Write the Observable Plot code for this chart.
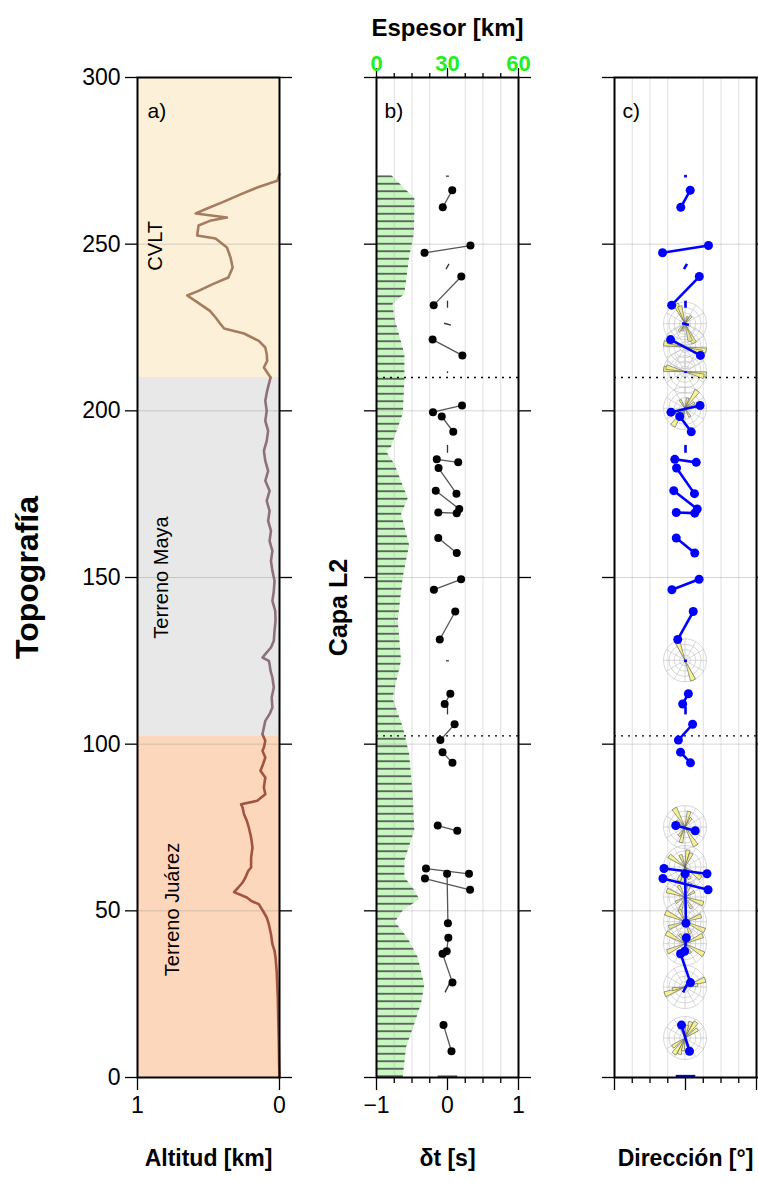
<!DOCTYPE html>
<html>
<head>
<meta charset="utf-8">
<script src="https://cdn.jsdelivr.net/npm/d3@7"></script>
<script src="https://cdn.jsdelivr.net/npm/@observablehq/plot@0.6"></script>
<style>
  body { margin: 0; background: #fff; }
  #fig { position: relative; width: 758px; height: 1183px; overflow: hidden; }
  #fig > div { position: absolute; top: 0; }
</style>
</head>
<body>
<div id="fig"></div>
<script>
// ---------- Topography profile (distance along profile [km], altitude [km]) ----------
const topoDist = [0,5,11,18,24,28,32,36,38,40,43,46,48,49.5,52,53,54,55.6,57,58.5,60,62,63,66,69,72,75,77,79,81,82,83,85,87,90,92,93.5,96,98,99,101,103,105,107,109,111,114,117,120,122,124,125,126,127,129,131,134,137,140,143,146,149,152,155,158,161,164,167,170,173,176,179,182,185,188,191,194,197,200,203,206,208,210,213,215,217,219,221,223.2,224.7,226,228,230,232.6,234.6,236,238,240,243,246,249,251.7,252.6,255.6,257,258,259.2,260.7,262.6,265,267,269,271];
const topoAlt  = [0,0.003,0.005,0.009,0.012,0.016,0.02,0.028,0.035,0.05,0.06,0.075,0.09,0.11,0.146,0.2,0.23,0.32,0.29,0.26,0.24,0.22,0.2,0.2,0.19,0.2,0.216,0.23,0.25,0.26,0.27,0.157,0.1,0.11,0.1,0.134,0.12,0.1,0.12,0.11,0.1,0.12,0.11,0.1,0.07,0.05,0.055,0.04,0.05,0.063,0.07,0.075,0.12,0.1,0.06,0.04,0.035,0.028,0.03,0.05,0.04,0.035,0.05,0.06,0.05,0.07,0.06,0.08,0.07,0.09,0.07,0.1,0.08,0.1,0.11,0.09,0.08,0.1,0.09,0.1,0.087,0.075,0.063,0.11,0.087,0.09,0.1,0.146,0.25,0.39,0.415,0.45,0.49,0.58,0.65,0.57,0.47,0.36,0.33,0.345,0.37,0.45,0.58,0.57,0.49,0.37,0.59,0.51,0.40,0.27,0.157,0.016,0];

// ---------- Terranes crossed by the profile ----------
const terraneNames = ["Terreno Juárez", "Terreno Maya", "CVLT"];
const terraneFrom  = [0, 102.5, 210];
const terraneTo    = [102.5, 210, 300];

// ---------- Thickness of layer L2 [km] ----------
const thickDist = [0,9,16,22,27.6,36,41.6,46.6,50,53.3,56,60,65,74,85,97,105,113.6,125,137,150,159.6,169,173.6,184,187.8,189,199,209,217,224,228,232,235,246,253,259,263.6,270.5];
const thickKm   = [11.3,12.7,16.2,19,20.4,17.6,13.4,8,11.3,18.3,16.2,12,12,16.2,15.5,14,11.3,7,10.6,9.2,11.3,14,10.6,13.4,7.7,4.2,6.3,11.3,12,12,9.2,7.7,7,12,14,16,16.2,16.2,6.5];

// ---------- Splitting measurements: station distance, fast direction φ [°], delay δt [s] ----------
const splitDist = [263.6,248.5,236,219,200.6,196,185,179,173.3,169.4,159.6,147.9,135.6,113.6,103.6,96,74.8,61.9,58,53.7,39.9,32.8,11.8];
const splitPhi  = [29,81,44,118,77,143,98,145,128,92,129,69,29,29,42,137,105,97,104,179,7,161,163];
const splitDt   = [0.55,1.31,1.12,0.95,0.84,0.54,0.61,0.88,0.84,0.52,0.67,0.82,0.90,0.33,0.60,0.41,0.57,1.22,1.31,1.39,0.38,0.86,0.77];

// Null / weak measurements (drawn without end points)
const nullDist = [270.4,243.3,232,226,211.6,188.6,125,110.1,27,0.4];
const nullPhi  = [90,30,0,105,0,0,90,0,27,90];
const nullDt   = [0.08,0.17,0.2,0.2,0.05,0.22,0.08,0.22,0.31,0.55];

// ---------- Rose diagrams of fast directions: station distance, petals [azimuth, relative count] ----------
const roseDist = [226,219,211.6,200.6,125,75,63,54,46.6,40,27,11.7];
const rosePetals = [
  [[155,1.0],[163,0.85],[40,0.45],[20,0.35]],
  [[100,1.0],[108,0.85]],
  [[98,1.0],[104,0.9]],
  [[35,1.0],[60,0.5],[150,0.45],[15,0.5]],
  [[158,1.0]],
  [[150,1.0],[15,0.75],[35,0.5],[125,0.5]],
  [[10,0.8],[25,0.7],[125,0.9],[160,0.6]],
  [[110,0.9],[150,0.6],[20,0.7],[60,0.5]],
  [[115,1.0],[70,0.8],[155,0.6]],
  [[120,1.0],[65,0.9],[150,0.5]],
  [[70,1.0],[80,0.6]],
  [[20,0.8],[35,0.9],[55,0.7],[10,0.6],[160,0.4]]
];

// ---------- Ticks ----------
const distTicks = [0,50,100,150,200,250,300];
const distGrid  = [50,100,150,200,250];
const altTicks  = [1,0];
const dtMajor   = [-1,0,1];
const dtMinor   = [-0.75,-0.5,-0.25,0.25,0.5,0.75];
const kmLabels  = [0,30,60];
const terraneBounds = [210,102.5];

// ---------- Layout ----------
const FONT = "'Liberation Sans', Arial, Helvetica, sans-serif";
const TOP = 77, BOTTOM = 1077, H = 1183;
const FRAME_W = 142, FRAME_H = BOTTOM - TOP;
const baseStyle = {fontFamily: FONT, fontSize: "23px", background: "transparent", overflow: "visible", color: "black"};
const intLabel = d => (d < 0 ? "\u2212" : "") + Math.abs(d);

const topo = topoDist.map((d, i) => ({d, alt: topoAlt[i]}));
const thick = thickDist.map((d, i) => ({d, km: thickKm[i]}));
const kmToDt = km => km / 30 - 1;

// Splitting bars: centred on δt = 0, oriented by φ (clockwise from north),
// full length equal to δt/2 on the δt axis; vertical part converted to km.
const pxPerSec = FRAME_W / 2, pxPerKm = FRAME_H / 300;
function bar(d, phi, dt) {
  const r = phi * Math.PI / 180, half = dt / 4;
  const hx = half * Math.sin(r);
  const hy = half * Math.cos(r) * pxPerSec / pxPerKm;
  return {x1: hx, y1: d + hy, x2: -hx, y2: d - hy};
}
const bars = splitDist.map((d, i) => bar(d, splitPhi[i], splitDt[i]));
const barEnds = bars.flatMap(b => [{x: b.x1, y: b.y1}, {x: b.x2, y: b.y2}]);
const nulls = nullDist.map((d, i) => bar(d, nullPhi[i], nullDt[i]));

function frameAxes(labels) {
  return [
    Plot.frame({stroke: "black", strokeWidth: 2}),
    Plot.axisY({anchor: "left", ticks: distTicks, tickSize: 12, tickPadding: 5, strokeWidth: 1.3,
      tickFormat: labels ? intLabel : () => "", label: null}),
    Plot.axisY({anchor: "right", ticks: distTicks, tickSize: 12, strokeWidth: 1.3, tickFormat: () => "", label: null})
  ];
}
const axisTitle = (t, opts) => Plot.text([t], {fontWeight: "bold", fontSize: 23, textAnchor: "middle", ...opts});

// ---------- Panel a: topography ----------
const terraneFill = ["#fdd7bb", "#e8e8e8", "#fdf0d8"];
const topoStroke  = ["#a1543f", "#8d707e", "#a57c60"];
const plotA = Plot.plot({
  width: 300, height: H, marginLeft: 137, marginRight: 21, marginTop: TOP, marginBottom: H - BOTTOM,
  x: {domain: [1, 0]}, y: {domain: [0, 300]},
  style: baseStyle,
  marks: [
    ...terraneNames.map((n, i) => Plot.rect([n], {x1: 1, x2: 0, y1: terraneFrom[i], y2: terraneTo[i], fill: terraneFill[i]})),
    Plot.gridY({ticks: distGrid, stroke: "#888", strokeOpacity: 0.35}),
    Plot.line(topo, {x: "alt", y: "d", filter: p => p.d <= 103, stroke: topoStroke[0], strokeWidth: 2.6}),
    Plot.line(topo, {x: "alt", y: "d", filter: p => p.d >= 103 && p.d <= 210, stroke: topoStroke[1], strokeWidth: 2.6}),
    Plot.line(topo, {x: "alt", y: "d", filter: p => p.d >= 210, stroke: topoStroke[2], strokeWidth: 2.6}),
    Plot.text(terraneNames, {x: [0.754, 0.83, 0.873], y: [50.4, 150, 249.5], rotate: -90, fontSize: 20}),
    ...frameAxes(true),
    Plot.axisX({anchor: "bottom", ticks: altTicks, tickSize: 13, tickPadding: 6, strokeWidth: 1.3, tickFormat: intLabel, label: null}),
    Plot.text(["a)"], {frameAnchor: "top-left", dx: 10, dy: 26, textAnchor: "start", fontSize: 21}),
    axisTitle("Topografía", {frameAnchor: "left", dx: -110, rotate: -90, fontSize: 32}),
    axisTitle("Altitud [km]", {frameAnchor: "bottom", dy: 88})
  ]
});

// ---------- Panel b: layer thickness and splitting bars ----------
function bottomTicks(withLabels) {
  return [
    Plot.axisX({anchor: "bottom", ticks: dtMinor, tickSize: 6, strokeWidth: 1.3, tickFormat: () => "", label: null}),
    Plot.axisX({anchor: "bottom", ticks: dtMajor, tickSize: 13, tickPadding: 6, strokeWidth: 1.3,
      tickFormat: withLabels ? intLabel : () => "", label: null})
  ];
}
const plotB = Plot.plot({
  width: 240, height: H, marginLeft: 76, marginRight: 22, marginTop: TOP, marginBottom: H - BOTTOM,
  x: {domain: [-1, 1]}, y: {domain: [0, 300]},
  style: baseStyle,
  marks: [
    Plot.areaX(thick, {y: "d", x1: -1, x2: p => kmToDt(p.km), fill: "url(#hatchL2)"}),
    Plot.gridX({ticks: dtMinor, stroke: "#999", strokeOpacity: 0.3}),
    Plot.gridY({ticks: distGrid, stroke: "#999", strokeOpacity: 0.4}),
    Plot.ruleY(terraneBounds, {stroke: "black", strokeWidth: 1.4, strokeDasharray: "2,5"}),
    Plot.link(nulls, {x1: "x1", y1: "y1", x2: "x2", y2: "y2", stroke: "#333", strokeWidth: 1.3}),
    Plot.link(bars, {x1: "x1", y1: "y1", x2: "x2", y2: "y2", stroke: "#555", strokeWidth: 1.3}),
    Plot.dot(barEnds, {x: "x", y: "y", r: 4, fill: "black"}),
    ...frameAxes(false),
    ...bottomTicks(true),
    Plot.axisX({anchor: "top", ticks: dtMinor, tickSize: 5, strokeWidth: 1.3, tickFormat: () => "", label: null}),
    Plot.axisX({anchor: "top", ticks: dtMajor, tickSize: 10, strokeWidth: 1.3, tickFormat: () => "", label: null}),
    Plot.text(kmLabels, {x: km => kmToDt(km), frameAnchor: "top", dy: -22, text: km => String(km),
      fill: "#22ee22", fontWeight: "bold", fontSize: 22}),
    axisTitle("Espesor [km]", {frameAnchor: "top", dy: -59, fontSize: 24}),
    Plot.text(["b)"], {frameAnchor: "top-left", dx: 8, dy: 26, textAnchor: "start", fontSize: 21}),
    axisTitle("Capa L2", {frameAnchor: "left", dx: -38, dy: 30, rotate: -90, fontSize: 25}),
    axisTitle("δt [s]", {frameAnchor: "bottom", dy: 88})
  ]
});
d3.select(plotB).insert("defs", ":first-child").html(
  `<pattern id="hatchL2" patternUnits="userSpaceOnUse" width="12" height="7.5">
     <rect width="12" height="7.5" fill="#c8f7c2"></rect>
     <line x1="0" x2="12" y1="3.75" y2="3.75" stroke="#333" stroke-width="1.4"></line>
   </pattern>`);

// ---------- Panel c: fast directions with rose diagrams ----------
const ROSE_R = 21.5, PETAL_HALF = 7;
function roseLayer(index, scales) {
  const g = d3.create("svg:g");
  const arc = d3.arc().innerRadius(0);
  const rad = a => a * Math.PI / 180;
  roseDist.forEach((d, i) => {
    const r = g.append("g").attr("transform", `translate(${scales.x(0)},${scales.y(d)})`);
    for (const k of [0.25, 0.5, 0.75, 1])
      r.append("circle").attr("r", ROSE_R * k).attr("fill", "none").attr("stroke", "#bdbdbd").attr("stroke-width", 0.6);
    for (let a = 0; a < 180; a += 30)
      r.append("line")
        .attr("x1", -ROSE_R * Math.sin(rad(a))).attr("y1", ROSE_R * Math.cos(rad(a)))
        .attr("x2", ROSE_R * Math.sin(rad(a))).attr("y2", -ROSE_R * Math.cos(rad(a)))
        .attr("stroke", "#bdbdbd").attr("stroke-width", 0.6);
    for (const [az, f] of rosePetals[i])
      for (const base of [az, az + 180])
        r.append("path")
          .attr("d", arc({outerRadius: ROSE_R * f, startAngle: rad(base - PETAL_HALF), endAngle: rad(base + PETAL_HALF)}))
          .attr("fill", "#f6f28a").attr("fill-opacity", 0.9).attr("stroke", "#555").attr("stroke-width", 0.6);
  });
  return g.node();
}
const plotC = Plot.plot({
  width: 218, height: H, marginLeft: 74, marginRight: 2, marginTop: TOP, marginBottom: H - BOTTOM,
  x: {domain: [-1, 1]}, y: {domain: [0, 300]},
  style: baseStyle,
  marks: [
    Plot.gridX({ticks: dtMinor, stroke: "#999", strokeOpacity: 0.3}),
    Plot.gridY({ticks: distGrid, stroke: "#999", strokeOpacity: 0.4}),
    Plot.ruleY(terraneBounds, {stroke: "black", strokeWidth: 1.4, strokeDasharray: "2,5"}),
    roseLayer,
    Plot.link(nulls, {x1: "x1", y1: "y1", x2: "x2", y2: "y2", stroke: "#0000ff", strokeWidth: 2.6}),
    Plot.link(bars, {x1: "x1", y1: "y1", x2: "x2", y2: "y2", stroke: "#0000ff", strokeWidth: 2.6}),
    Plot.dot(barEnds, {x: "x", y: "y", r: 4.5, fill: "#0000ff"}),
    ...frameAxes(false),
    ...bottomTicks(false),
    Plot.text(["c)"], {frameAnchor: "top-left", dx: 8, dy: 26, textAnchor: "start", fontSize: 21}),
    axisTitle("Dirección [°]", {frameAnchor: "bottom", dy: 88})
  ]
});

const fig = document.getElementById("fig");
[[plotA, 0], [plotB, 300], [plotC, 540]].forEach(([p, left]) => {
  const holder = document.createElement("div");
  holder.style.left = left + "px";
  holder.appendChild(p);
  fig.appendChild(holder);
});
</script>
</body>
</html>
